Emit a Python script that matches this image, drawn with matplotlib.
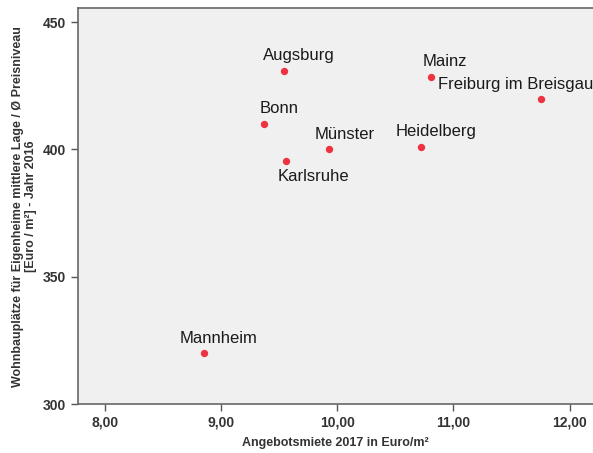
import matplotlib.pyplot as plt
from matplotlib.ticker import FuncFormatter

# Städte und Werte
cities = ['Augsburg', 'Bonn', 'Karlsruhe', 'Münster', 'Heidelberg',
          'Mainz', 'Freiburg im Breisgau', 'Mannheim']
miete = [9.54, 9.37, 9.56, 9.93, 10.72, 10.81, 11.75, 8.85]
bauland = [431, 410, 395.5, 400, 401, 428.5, 420, 320]

# Beschriftungs-Versatz in Punkten (dx, dy), Textmitte relativ zum Punkt
label_offsets = {
    'Augsburg': (11, 10.5), 'Bonn': (11, 11), 'Karlsruhe': (20, -11.5),
    'Münster': (11, 11), 'Heidelberg': (11, 11), 'Mainz': (10, 11),
    'Freiburg im Breisgau': (-74, 10), 'Mannheim': (11, 10.5),
}

plt.rcParams['font.family'] = ['Liberation Sans', 'DejaVu Sans']

fig = plt.figure(figsize=(5.93, 4.53), dpi=100)
ax = fig.add_axes([0.1315, 0.108, 0.8685, 0.874])
ax.set_facecolor('#f0f0f0')

ax.scatter(miete, bauland, s=28, color='#ee3340', zorder=3, linewidths=0)

for c, x, y in zip(cities, miete, bauland):
    dx, dy = label_offsets[c]
    ha = 'left' if c == 'Freiburg im Breisgau' else 'center'
    ax.annotate(c, (x, y), xytext=(dx, dy), textcoords='offset points',
                ha=ha, va='center', fontsize=12, color='#1a1a1a')

ax.set_xlim(7.77, 12.2)
ax.set_ylim(300, 455.5)
ax.set_xticks([8, 9, 10, 11, 12])
ax.set_yticks([300, 350, 400, 450])
ax.xaxis.set_major_formatter(FuncFormatter(lambda v, p: f'{v:.2f}'.replace('.', ',')))
ax.yaxis.set_major_formatter(FuncFormatter(lambda v, p: f'{v:.0f}'))
ax.tick_params(direction='out', length=5, width=1, color='#555555',
               labelsize=10, labelcolor='#333333')
for lbl in ax.get_xticklabels() + ax.get_yticklabels():
    lbl.set_fontweight('bold')

for s in ['left', 'bottom', 'top']:
    ax.spines[s].set_color('#666666')
    ax.spines[s].set_linewidth(1.2)
ax.spines['right'].set_visible(False)

ax.set_xlabel('Angebotsmiete 2017 in Euro/m²', fontsize=9, fontweight='bold',
              color='#333333', labelpad=5)
ax.set_ylabel('Wohnbauplätze für Eigenheime mittlere Lage / Ø Preisniveau\n[Euro / m²] - Jahr 2016',
              fontsize=9, fontweight='bold', color='#333333', labelpad=4,
              linespacing=1.2)

fig.savefig('out.png', dpi=100)
